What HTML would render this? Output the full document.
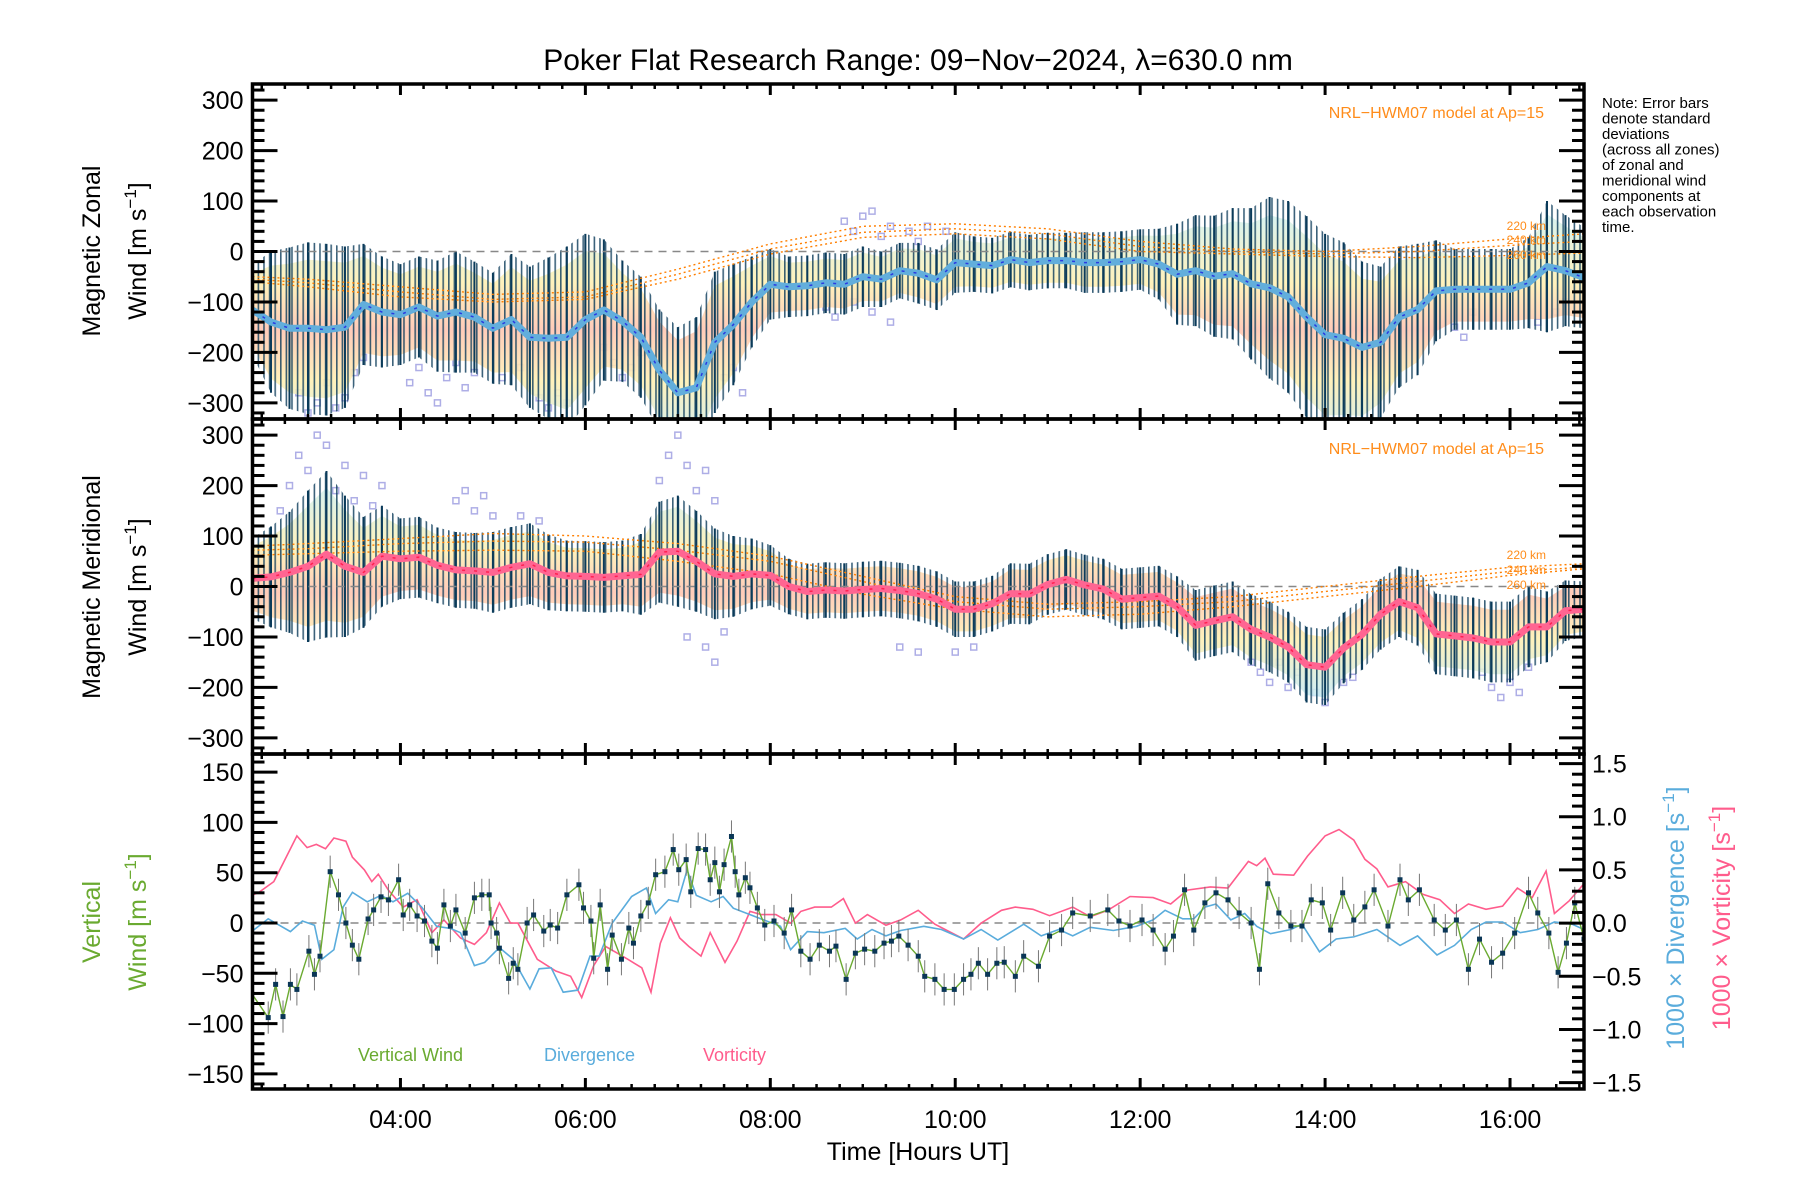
<!DOCTYPE html>
<html><head><meta charset="utf-8"><title>Poker Flat winds</title>
<style>
html,body{margin:0;padding:0;background:#fff;}
svg{display:block;font-family:"Liberation Sans",sans-serif;}
</style></head>
<body>
<svg id="chart" width="1800" height="1200" viewBox="0 0 1800 1200" xmlns="http://www.w3.org/2000/svg">
<defs>
<linearGradient id="paleBand" x1="0" y1="0" x2="0" y2="1">
<stop offset="0" stop-color="#d4f2f0"/><stop offset="0.3" stop-color="#fff0b4"/><stop offset="0.5" stop-color="#ffc6b2"/><stop offset="0.72" stop-color="#fff0b4"/><stop offset="1" stop-color="#c8ecf6"/>
</linearGradient>
<pattern id="stripes" x="0" y="0" width="5.6" height="10" patternUnits="userSpaceOnUse">
<rect x="0" y="0" width="1.6" height="10" fill="#0b3b5a"/>
</pattern>
<clipPath id="clip1"><rect x="252.5" y="84" width="1331.5" height="335"/></clipPath>
<clipPath id="clip2"><rect x="252.5" y="419" width="1331.5" height="335"/></clipPath>
<clipPath id="clip3"><rect x="252.5" y="754" width="1331.5" height="335"/></clipPath>
</defs>
<rect x="0" y="0" width="1800" height="1200" fill="#fff"/>
<text x="918" y="70" font-size="30" text-anchor="middle">Poker Flat Research Range: 09−Nov−2024, λ=630.0 nm</text>
<g id="marks"></g>
<g id="axes"></g>
<g font-size="25">
<text transform="translate(100,251) rotate(-90)" text-anchor="middle">Magnetic Zonal</text>
<text transform="translate(146,251) rotate(-90)" text-anchor="middle">Wind [m s<tspan font-size="17" dy="-10">−1</tspan><tspan dy="10">]</tspan></text>
</g>
<g font-size="25">
<text transform="translate(100,587) rotate(-90)" text-anchor="middle">Magnetic Meridional</text>
<text transform="translate(146,587) rotate(-90)" text-anchor="middle">Wind [m s<tspan font-size="17" dy="-10">−1</tspan><tspan dy="10">]</tspan></text>
</g>
<g font-size="25" fill="#6aaa30">
<text transform="translate(100,922) rotate(-90)" text-anchor="middle">Vertical</text>
<text transform="translate(146,922) rotate(-90)" text-anchor="middle">Wind [m s<tspan font-size="17" dy="-10">−1</tspan><tspan dy="10">]</tspan></text>
</g>
<text transform="translate(1684,918) rotate(-90)" font-size="25" fill="#5aacdc" text-anchor="middle">1000 × Divergence [s<tspan font-size="17" dy="-10">−1</tspan><tspan dy="10">]</tspan></text>
<text transform="translate(1730,918) rotate(-90)" font-size="25" fill="#ff5c8c" text-anchor="middle">1000 × Vorticity [s<tspan font-size="17" dy="-10">−1</tspan><tspan dy="10">]</tspan></text>
<text x="918" y="1160" font-size="25" text-anchor="middle">Time [Hours UT]</text>
<g font-size="15">
<text x="1602" y="108">Note: Error bars</text>
<text x="1602" y="123.5">denote standard</text>
<text x="1602" y="139">deviations</text>
<text x="1602" y="154.5">(across all zones)</text>
<text x="1602" y="170">of zonal and</text>
<text x="1602" y="185.5">meridional wind</text>
<text x="1602" y="201">components at</text>
<text x="1602" y="216.5">each observation</text>
<text x="1602" y="232">time.</text>
</g>
<text x="1544" y="118" font-size="16" fill="#ff8c1a" text-anchor="end">NRL−HWM07 model at Ap=15</text>
<text x="1544" y="454" font-size="16" fill="#ff8c1a" text-anchor="end">NRL−HWM07 model at Ap=15</text>
<g font-size="12" fill="#ff8c1a" text-anchor="end">
<text x="1546" y="230">220 km</text><text x="1546" y="244">240 km</text><text x="1546" y="259">260 km</text>
</g>
<g font-size="12" fill="#ff8c1a" text-anchor="end">
<text x="1546" y="559">220 km</text><text x="1546" y="574">240 km</text><text x="1546" y="589">260 km</text>
</g>
<g font-size="18">
<text x="358" y="1061" fill="#6aaa30">Vertical Wind</text>
<text x="544" y="1061" fill="#5aacdc">Divergence</text>
<text x="703" y="1061" fill="#ff5c8c">Vorticity</text>
</g>
</svg>
<script>
// ---------- data ----------
const gridTimes = [2.4,2.6,2.8,3.0,3.2,3.4,3.6,3.8,4.0,4.2,4.4,4.6,4.8,5.0,5.2,5.4,5.6,5.8,6.0,6.2,6.4,6.6,6.8,7.0,7.2,7.4,7.6,7.8,8.0,8.2,8.4,8.6,8.8,9.0,9.2,9.4,9.6,9.8,10.0,10.2,10.4,10.6,10.8,11.0,11.2,11.4,11.6,11.8,12.0,12.2,12.4,12.6,12.8,13.0,13.2,13.4,13.6,13.8,14.0,14.2,14.4,14.6,14.8,15.0,15.2,15.4,15.6,15.8,16.0,16.2,16.4,16.6,16.8];
const zonalMean = [-116,-140,-152,-152,-155,-150,-105,-120,-125,-110,-128,-120,-130,-152,-135,-170,-172,-170,-135,-116,-138,-170,-235,-280,-270,-180,-145,-100,-65,-70,-68,-62,-65,-50,-55,-38,-43,-56,-22,-25,-28,-16,-22,-18,-18,-22,-22,-20,-16,-25,-45,-38,-49,-44,-64,-72,-90,-130,-165,-172,-190,-180,-130,-115,-78,-75,-75,-75,-75,-62,-30,-38,-52];
const zonalErr = [90,140,160,170,170,160,120,110,100,100,110,120,110,110,130,140,160,180,170,140,120,120,120,130,140,140,120,90,70,60,60,60,60,60,55,55,60,60,60,55,55,55,55,55,55,60,60,60,60,70,100,110,120,130,150,180,190,200,200,190,170,150,140,130,100,80,80,80,80,90,130,110,100];
const meridMean = [16,19,28,40,64,40,28,60,55,58,42,33,31,28,38,45,28,21,20,18,21,24,68,70,50,25,20,25,22,0,-10,-7,-9,-6,-4,-8,-14,-25,-45,-45,-34,-14,-15,4,14,3,-5,-25,-22,-19,-40,-77,-68,-60,-85,-100,-120,-155,-160,-122,-95,-55,-30,-42,-94,-98,-102,-110,-110,-80,-80,-48,-45];
const meridErr = [80,100,120,150,165,140,110,100,80,80,75,75,75,80,80,80,75,70,70,70,70,80,100,110,100,90,80,70,60,55,55,55,55,55,55,55,55,55,55,55,55,60,60,60,60,60,60,60,60,60,60,70,70,70,70,70,70,75,75,70,70,70,70,75,80,80,80,80,80,80,70,60,55];
const hwmTimes = [2.4,3,4,5,6,7,8,9,10,11,12,13,14,15,16,16.8];
const hwmZonal220 = [-50,-55,-70,-85,-80,-35,15,50,55,45,20,5,0,10,25,35];
const hwmZonal240 = [-55,-62,-80,-95,-90,-45,5,38,45,35,10,0,-5,0,12,20];
const hwmZonal260 = [-60,-70,-90,-100,-95,-55,-5,28,35,25,0,-5,-10,-12,-8,-3];
const hwmMerid220 = [80,85,95,105,100,85,60,20,-20,-35,-30,-20,0,20,38,45];
const hwmMerid240 = [72,75,85,90,88,72,50,10,-30,-45,-40,-30,-10,10,30,38];
const hwmMerid260 = [62,65,70,72,70,50,25,-15,-45,-60,-55,-40,-20,0,22,35];
const zonalOutT = [2.9,3.0,3.1,3.2,3.3,3.4,3.5,3.6,4.1,4.2,4.3,4.4,4.5,4.6,4.7,4.8,5.1,5.3,5.5,5.6,5.7,5.8,6.2,6.3,6.4,6.5,6.6,7.5,7.6,7.7,8.8,8.9,9.0,9.1,9.2,9.3,9.5,9.6,9.7,9.9,8.6,8.7,8.9,9.1,9.3,15.4,15.5,15.6,16.3,16.5,16.6];
const zonalOutV = [-280,-320,-300,-260,-310,-290,-240,-210,-260,-230,-280,-300,-250,-220,-270,-240,-250,-230,-290,-310,-280,-300,-190,-220,-250,-230,-200,-250,-230,-280,60,40,70,80,30,50,40,20,50,40,-110,-130,-100,-120,-140,-150,-170,-120,-140,-120,-100];
const meridOutT = [2.7,2.8,2.9,3.0,3.1,3.2,3.3,3.4,3.5,3.6,3.7,3.8,4.6,4.7,4.8,4.9,5.0,5.3,5.5,6.8,6.9,7.0,7.1,7.2,7.3,7.4,7.3,7.4,7.5,7.1,13.2,13.3,13.4,13.5,13.6,13.7,13.9,14.0,14.2,14.3,15.7,15.8,15.9,16.0,16.1,16.2,9.4,9.6,10.0,10.2];
const meridOutV = [150,200,260,230,300,280,190,240,170,220,160,200,170,190,150,180,140,140,130,210,260,300,240,190,230,170,-120,-150,-90,-100,-150,-170,-190,-150,-200,-170,-210,-230,-190,-180,-170,-200,-220,-190,-210,-160,-120,-130,-130,-120];
const vertTimes = [2.39,2.57,2.65,2.73,2.81,2.88,3.01,3.07,3.13,3.24,3.33,3.41,3.48,3.55,3.65,3.71,3.79,3.87,3.98,4.03,4.1,4.18,4.26,4.34,4.4,4.47,4.54,4.6,4.7,4.8,4.88,4.96,4.98,5.04,5.07,5.17,5.22,5.27,5.37,5.44,5.55,5.62,5.7,5.8,5.93,5.98,6.06,6.09,6.16,6.24,6.29,6.39,6.47,6.52,6.6,6.68,6.76,6.86,6.95,7.01,7.09,7.14,7.22,7.3,7.35,7.4,7.45,7.5,7.58,7.62,7.66,7.73,7.78,7.86,7.94,8.04,8.15,8.23,8.33,8.43,8.53,8.64,8.71,8.82,8.92,9.02,9.13,9.23,9.31,9.39,9.49,9.6,9.67,9.78,9.88,9.99,10.09,10.17,10.25,10.35,10.45,10.53,10.65,10.74,10.9,11.02,11.15,11.27,11.46,11.65,11.77,11.89,12.02,12.14,12.27,12.36,12.48,12.58,12.7,12.82,12.95,13.07,13.2,13.29,13.38,13.5,13.63,13.75,13.85,13.97,14.06,14.19,14.31,14.43,14.53,14.68,14.81,14.9,15.02,15.18,15.3,15.42,15.55,15.67,15.8,15.92,16.05,16.2,16.3,16.42,16.52,16.61,16.7,16.8];
const vertWind = [-70,-94,-61,-93,-61,-66,-28,-51,-33,51,28,0,-22,-36,4,13,26,23,43,8,18,7,2,-18,-25,18,-3,13,-10,25,28,28,0,-10,-25,-55,-40,-46,0,8,-8,-2,-5,28,38,15,2,-35,18,-46,-12,-36,-5,-20,7,20,48,51,73,53,63,31,74,73,43,60,31,58,86,51,28,45,35,15,-2,2,-10,13,-28,-36,-22,-28,-23,-56,-30,-26,-28,-20,-18,-13,-22,-33,-53,-56,-66,-66,-56,-51,-40,-51,-40,-39,-53,-33,-43,-13,-7,10,7,13,2,-3,3,-7,-26,-13,33,-7,20,30,23,10,0,-46,39,10,-3,-3,23,20,-7,30,3,16,33,-3,43,23,33,3,-7,3,-46,-16,-39,-30,-10,30,10,-10,-49,-20,20,-16];
const vertErr = 16;
const divTimes = [2.39,2.57,2.81,2.94,3.07,3.15,3.28,3.38,3.48,3.64,3.79,3.92,4.08,4.23,4.39,4.54,4.65,4.8,4.91,5.07,5.22,5.4,5.5,5.63,5.76,5.92,6.05,6.15,6.29,6.5,6.66,6.76,6.9,7.0,7.1,7.2,7.36,7.49,7.6,7.78,7.96,8.11,8.22,8.4,8.58,8.81,8.94,9.1,9.25,9.41,9.66,9.85,10.09,10.28,10.46,10.74,10.93,11.12,11.27,11.46,11.71,11.96,12.14,12.27,12.46,12.58,12.7,12.82,12.98,13.13,13.26,13.41,13.63,13.75,13.94,14.12,14.31,14.56,14.81,15.0,15.21,15.4,15.58,15.74,15.92,16.11,16.3,16.48,16.67,16.8];
const divergence = [-0.08,0.04,-0.08,0.02,-0.02,-0.34,-0.25,0.15,0.29,0.2,0.26,0.2,0.28,0.15,-0.03,-0.05,-0.09,-0.4,-0.37,-0.23,-0.34,-0.62,-0.43,-0.42,-0.65,-0.63,-0.31,-0.31,0,0.25,0.33,0.09,0.22,0.2,0.5,0.26,0.2,0.25,0.14,0.08,0.02,-0.03,-0.25,-0.08,-0.09,-0.05,-0.15,-0.06,-0.12,-0.07,-0.03,-0.06,-0.15,-0.06,-0.16,-0.01,-0.12,-0.06,-0.12,-0.04,-0.07,-0.03,0.03,0.12,0.04,0.04,0.15,0.18,0.03,0.09,-0.03,-0.1,-0.06,-0.01,-0.27,-0.15,-0.13,-0.06,-0.21,-0.12,-0.3,-0.21,-0.06,0.01,0.01,-0.09,-0.06,0.01,-0.01,-0.06];
const vortTimes = [2.39,2.47,2.63,2.73,2.88,2.99,3.09,3.19,3.28,3.41,3.48,3.61,3.69,3.76,3.87,4.03,4.18,4.34,4.47,4.65,4.8,4.93,5.07,5.19,5.27,5.48,5.68,5.84,5.96,6.09,6.22,6.36,6.46,6.61,6.71,6.81,6.92,7.02,7.12,7.25,7.35,7.51,7.64,7.78,7.9,8.06,8.22,8.33,8.48,8.66,8.79,8.92,9.05,9.25,9.41,9.6,9.78,10.09,10.28,10.5,10.65,10.84,11.02,11.27,11.46,11.65,11.89,12.14,12.33,12.51,12.76,12.95,13.17,13.26,13.35,13.44,13.66,13.81,14.0,14.15,14.31,14.43,14.56,14.68,14.87,15.06,15.24,15.4,15.55,15.74,15.92,16.08,16.24,16.39,16.48,16.64,16.8];
const vorticity = [0.26,0.29,0.39,0.56,0.82,0.71,0.74,0.7,0.8,0.77,0.62,0.5,0.39,0.46,0.31,0.15,0.22,-0.09,0.03,-0.14,-0.2,-0.09,0.19,0,0,-0.34,-0.45,-0.5,-0.7,-0.4,-0.22,-0.29,-0.34,-0.42,-0.65,-0.19,0.05,-0.14,-0.22,-0.31,-0.09,-0.37,-0.17,0.11,0.08,0.08,0,0.11,0.15,0.15,0.23,0,0.08,-0.02,0.03,0.12,-0.01,-0.15,0,0.12,0.15,0.13,0.07,0.15,0.06,0.12,0.25,0.24,0.18,0.31,0.34,0.33,0.58,0.54,0.61,0.46,0.45,0.63,0.82,0.88,0.78,0.6,0.51,0.34,0.39,0.27,0.22,0.09,0.18,0.13,0.16,0.33,0.24,0.49,0.09,0.21,0.37];
const hourTicks = [4,6,8,10,12,14,16];
const hourLabels = ["04:00","06:00","08:00","10:00","12:00","14:00","16:00"];
const windTicks = [-300,-200,-100,0,100,200,300];
const windLabels = ["−300","−200","−100","0","100","200","300"];
const vertTicks = [-150,-100,-50,0,50,100,150];
const vertLabels = ["−150","−100","−50","0","50","100","150"];
const rightTicks = [-1.5,-1.0,-0.5,0,0.5,1.0,1.5];
const rightLabels = ["−1.5","−1.0","−0.5","0.0","0.5","1.0","1.5"];

// ---------- scales ----------
const SVGNS = "http://www.w3.org/2000/svg";
const X0 = 252.5, X1 = 1584, TMIN = 2.4, TMAX = 16.8;
function xs(t){ return X0 + (t - TMIN) / (TMAX - TMIN) * (X1 - X0); }
const P1 = {top:84, h:335, min:-332, max:332};
const P2 = {top:419, h:335, min:-332, max:332};
const P3 = {top:754, h:335, min:-165, max:168};
const P3R = {top:754, h:335, min:-1.56, max:1.59};
function ys(p, v){ return p.top + (p.max - v) / (p.max - p.min) * p.h; }

const marks = document.getElementById('marks');
const axes = document.getElementById('axes');
function mk(tag, parent, name, attrs){
  const el = document.createElementNS(SVGNS, tag);
  for (const k in attrs) el.setAttribute(k, attrs[k]);
  
  
  parent.appendChild(el);
  return el;
}
function group(parent, name, clip){
  const g = document.createElementNS(SVGNS, 'g');
  
  
  if (clip) g.setAttribute('clip-path', 'url(#' + clip + ')');
  parent.appendChild(g);
  return g;
}
function linePath(ts, vs, p){
  const n = Math.min(ts.length, vs.length);
  let d = '';
  for (let i = 0; i < n; i++) d += (i ? 'L' : 'M') + xs(ts[i]).toFixed(1) + ',' + ys(p, vs[i]).toFixed(1);
  return d;
}
function bandPath(ts, mean, err, k, p){
  const n = Math.min(ts.length, mean.length, err.length);
  let d = '';
  for (let i = 0; i < n; i++) d += (i ? 'L' : 'M') + xs(ts[i]).toFixed(1) + ',' + ys(p, mean[i] + k * err[i]).toFixed(1);
  for (let i = n - 1; i >= 0; i--) d += 'L' + xs(ts[i]).toFixed(1) + ',' + ys(p, mean[i] - k * err[i]).toFixed(1);
  return d + 'Z';
}

function windPanel(p, clip, prefix, mean, err, h220, h240, h260, outT, outV, lineColor, underColor){
  const g = group(marks, prefix + '-panel', clip);
  const outs = group(g, prefix + '-outlier-points');
  const no = Math.min(outT.length, outV.length);
  for (let i = 0; i < no; i++) {
    mk('rect', outs, prefix + '-outlier-point', {x: xs(outT[i]) - 3, y: ys(p, outV[i]) - 3, width: 6, height: 6, fill: 'none', stroke: '#aeaee6', 'stroke-width': 1.5});
  }
  mk('path', g, prefix + '-zone-spread', {d: bandPath(gridTimes, mean, err, 0.8, p), fill: 'url(#paleBand)', opacity: 0.9});
  mk('path', g, prefix + '-error-stripes', {d: bandPath(gridTimes, mean, err, 1, p), fill: 'url(#stripes)', opacity: 0.8});
  const bars = group(g, prefix + '-error-bars');
  const n = Math.min(gridTimes.length, mean.length, err.length);
  for (let i = 0; i < n; i++) {
    const x = xs(gridTimes[i]);
    mk('line', bars, prefix + '-error-bar', {x1: x, x2: x, y1: ys(p, mean[i] + err[i]), y2: ys(p, mean[i] - err[i]), stroke: '#0b3b5a', 'stroke-width': 2});
  }
  mk('line', g, prefix + '-zero-line', {x1: X0, x2: X1, y1: ys(p, 0), y2: ys(p, 0), stroke: '#888', 'stroke-width': 1.5, 'stroke-dasharray': '8,6'});
  mk('path', g, prefix + '-hwm-220km', {d: linePath(hwmTimes, h220, p), fill: 'none', stroke: '#ff7f00', 'stroke-width': 1.4, 'stroke-dasharray': '2,3'});
  mk('path', g, prefix + '-hwm-240km', {d: linePath(hwmTimes, h240, p), fill: 'none', stroke: '#ff7f00', 'stroke-width': 1.4, 'stroke-dasharray': '2,3'});
  mk('path', g, prefix + '-hwm-260km', {d: linePath(hwmTimes, h260, p), fill: 'none', stroke: '#ff7f00', 'stroke-width': 1.4, 'stroke-dasharray': '2,3'});
  mk('path', g, prefix + '-mean-line', {d: linePath(gridTimes, mean, p), fill: 'none', stroke: lineColor, 'stroke-width': 7, 'stroke-linejoin': 'round'});
  mk('path', g, prefix + '-mean-core', {d: linePath(gridTimes, mean, p), fill: 'none', stroke: underColor, 'stroke-width': 1.5, 'stroke-dasharray': '3,9'});
}
windPanel(P1, 'clip1', 'zonal', zonalMean, zonalErr, hwmZonal220, hwmZonal240, hwmZonal260, zonalOutT, zonalOutV, '#62aedc', '#2a3ae0');
windPanel(P2, 'clip2', 'meridional', meridMean, meridErr, hwmMerid220, hwmMerid240, hwmMerid260, meridOutT, meridOutV, '#ff6592', '#ff2050');

// panel 3
const g3 = group(marks, 'vertical-panel', 'clip3');
mk('line', g3, 'vertical-zero-line', {x1: X0, x2: X1, y1: ys(P3, 0), y2: ys(P3, 0), stroke: '#888', 'stroke-width': 1.5, 'stroke-dasharray': '8,6'});
mk('path', g3, 'vorticity-line', {d: linePath(vortTimes, vorticity, P3R), fill: 'none', stroke: '#ff5c8c', 'stroke-width': 1.6});
mk('path', g3, 'divergence-line', {d: linePath(divTimes, divergence, P3R), fill: 'none', stroke: '#5aacdc', 'stroke-width': 1.6});
const vbars = group(g3, 'vertical-wind-error-bars');
const nv = Math.min(vertTimes.length, vertWind.length);
for (let i = 0; i < nv; i++) {
  const x = xs(vertTimes[i]);
  mk('line', vbars, 'vertical-wind-error-bar', {x1: x, x2: x, y1: ys(P3, vertWind[i] + vertErr), y2: ys(P3, vertWind[i] - vertErr), stroke: '#777', 'stroke-width': 1});
}
mk('path', g3, 'vertical-wind-line', {d: linePath(vertTimes, vertWind, P3), fill: 'none', stroke: '#6aaa30', 'stroke-width': 1.4});
const vpts = group(g3, 'vertical-wind-points');
for (let i = 0; i < nv; i++) {
  mk('rect', vpts, 'vertical-wind-point', {x: xs(vertTimes[i]) - 2.5, y: ys(P3, vertWind[i]) - 2.5, width: 5, height: 5, fill: '#0a3656'});
}

// ---------- axes ----------
function frame(p, name){
  mk('rect', axes, name, {x: X0, y: p.top, width: X1 - X0, height: p.h, fill: 'none', stroke: '#000', 'stroke-width': 3.5});
}
function xTicks(p, prefix){
  const g = group(axes, prefix + '-x-ticks');
  for (let q = Math.ceil(TMIN * 4); q <= TMAX * 4; q++) {
    const t = q / 4, x = xs(t), major = (q % 8 === 0);
    const L = major ? 11 : 5;
    mk('line', g, prefix + (major ? '-x-major-tick' : '-x-minor-tick'), {x1: x, x2: x, y1: p.top, y2: p.top + L, stroke: '#000', 'stroke-width': major ? 3 : 2.5});
    mk('line', g, prefix + (major ? '-x-major-tick' : '-x-minor-tick'), {x1: x, x2: x, y1: p.top + p.h, y2: p.top + p.h - L, stroke: '#000', 'stroke-width': major ? 3 : 2.5});
  }
}
function yTicks(p, prefix, majors, labels, minorStep, left, right, labelSide){
  const g = group(axes, prefix + '-y-ticks');
  const lo = Math.ceil(p.min / minorStep), hi = Math.floor(p.max / minorStep);
  const majSet = majors.map(v => Math.round(v / minorStep));
  for (let k = lo; k <= hi; k++) {
    const y = ys(p, k * minorStep), major = majSet.indexOf(k) >= 0;
    const L = major ? 25 : 12;
    if (left) mk('line', g, prefix + (major ? '-y-major-tick' : '-y-minor-tick'), {x1: X0, x2: X0 + L, y1: y, y2: y, stroke: '#000', 'stroke-width': 3});
    if (right) mk('line', g, prefix + (major ? '-y-major-tick' : '-y-minor-tick'), {x1: X1, x2: X1 - L, y1: y, y2: y, stroke: '#000', 'stroke-width': 3});
  }
  for (let i = 0; i < majors.length; i++) {
    const el = mk('text', g, prefix + '-y-tick-label', {x: labelSide === 'left' ? X0 - 9 : X1 + 8, y: ys(p, majors[i]) + 9, 'font-size': 25, 'text-anchor': labelSide === 'left' ? 'end' : 'start'});
    el.textContent = labels[i];
  }
}
frame(P1, 'zonal-frame'); frame(P2, 'meridional-frame'); frame(P3, 'vertical-frame');
xTicks(P1, 'zonal'); xTicks(P2, 'meridional'); xTicks(P3, 'vertical');
yTicks(P1, 'zonal', windTicks, windLabels, 20, true, true, 'left');
yTicks(P2, 'meridional', windTicks, windLabels, 20, true, true, 'left');
yTicks(P3, 'vertical', vertTicks, vertLabels, 10, true, false, 'left');
yTicks(P3R, 'right', rightTicks, rightLabels, 0.1, false, true, 'right');
const xl = group(axes, 'x-tick-labels');
for (let i = 0; i < hourTicks.length; i++) {
  const el = mk('text', xl, 'x-tick-label', {x: xs(hourTicks[i]), y: 1128, 'font-size': 25, 'text-anchor': 'middle'});
  el.textContent = hourLabels[i];
}
</script>
</body></html>
